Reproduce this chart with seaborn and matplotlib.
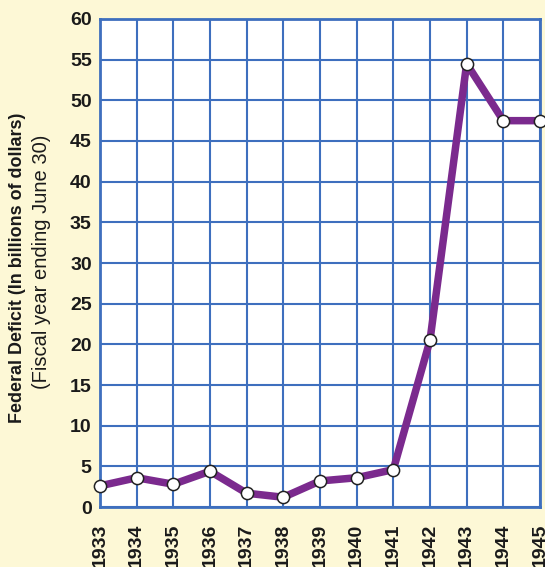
import matplotlib
matplotlib.use("Agg")
import matplotlib.pyplot as plt
import pandas as pd
import seaborn as sns
from matplotlib import font_manager

# deficit per fiscal year, billions of dollars
years = [1933, 1934, 1935, 1936, 1937, 1938, 1939, 1940, 1941, 1942, 1943, 1944, 1945]
deficit = [2.6, 3.6, 2.8, 4.4, 1.7, 1.2, 3.2, 3.6, 4.6, 20.5, 54.5, 47.5, 47.5]
y_ticks = list(range(0, 61, 5))

df = pd.DataFrame({"year": years, "deficit": deficit})

bg = "#FDF8D6"
grid_blue = "#3E6FBE"
purple = "#7B2A8E"

sns.set_style("white")
plt.rcParams["font.family"] = ["Liberation Sans", "DejaVu Sans"]

names = {f.name for f in font_manager.fontManager.ttflist}
narrow = "Liberation Sans Narrow" if "Liberation Sans Narrow" in names else "Liberation Sans"

fig = plt.figure(figsize=(5.45, 5.67), dpi=100, facecolor=bg)
ax = fig.add_axes([0.1835, 0.1058, 0.8073, 0.8607])
ax.set_facecolor("white")

sns.lineplot(data=df, x="year", y="deficit", ax=ax, color=purple, linewidth=5.4,
             marker="o", markersize=8.8, markerfacecolor="white",
             markeredgecolor="#222222", markeredgewidth=1.1, clip_on=False, zorder=5)

ax.set_xlim(1933, 1945)
ax.set_ylim(0, 60)
ax.set_xticks(years)
ax.set_yticks(y_ticks)
ax.set_xticklabels([str(y) for y in years], rotation=90, fontweight="bold", fontsize=14,
                   va="top", color="#1a1a1a")
ax.set_yticklabels([str(v) for v in y_ticks], fontweight="bold", fontsize=14, color="#1a1a1a")
ax.tick_params(axis="x", length=0, pad=12)
ax.tick_params(axis="y", length=0, pad=6)

ax.grid(True, color=grid_blue, linewidth=1.5)
ax.set_axisbelow(True)
for s in ax.spines.values():
    s.set_color(grid_blue)
    s.set_linewidth(2)
    s.set_visible(True)

ax.set_xlabel("")
ax.set_ylabel("")

fig.text(0.033, 0.527, "Federal Deficit (In billions of dollars)", rotation=90,
         ha="center", va="center", fontsize=12.9, fontweight="bold",
         family=[narrow, "DejaVu Sans"], color="#1a1a1a")
fig.text(0.077, 0.538, "(Fiscal year ending June 30)", rotation=90,
         ha="center", va="center", fontsize=14.5, color="#1a1a1a")

fig.savefig("out.png", dpi=100, facecolor=bg)
